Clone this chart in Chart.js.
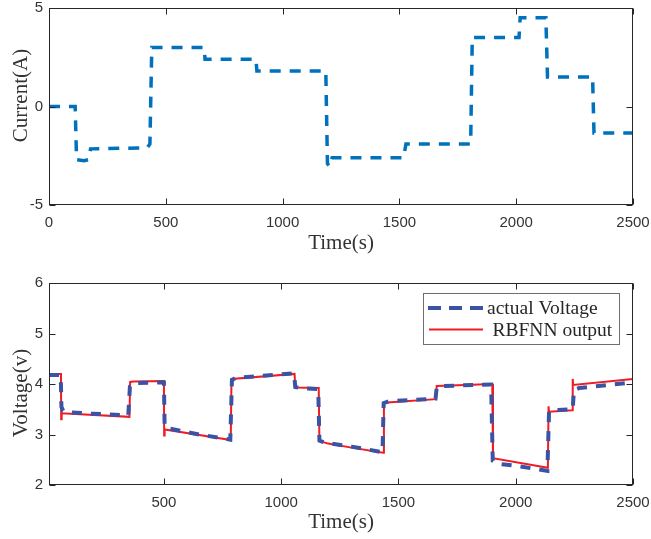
<!DOCTYPE html>
<html>
<head>
<meta charset="utf-8">
<script src="https://cdn.jsdelivr.net/npm/chart.js@4/dist/chart.umd.min.js"></script>
<style>
  html, body { margin: 0; padding: 0; background: #ffffff; }
  #wrap { position: relative; width: 651px; height: 539px; overflow: hidden; }
  canvas { position: absolute; left: 0; }
</style>
</head>
<body>
<div id="wrap">
  <canvas id="top" width="651" height="270" style="top:0px"></canvas>
  <canvas id="bottom" width="651" height="269" style="top:270px"></canvas>
</div>
<script>
// ---------------- data ----------------
const xTicksTop = [0, 500, 1000, 1500, 2000, 2500];
const yTicksTop = [-5, 0, 5];
const xTicksBottom = [500, 1000, 1500, 2000, 2500];
const yTicksBottom = [2, 3, 4, 5, 6];

const timeCurrent = [0, 112, 118, 150, 168, 178, 420, 432, 440, 664, 668, 886, 890, 1185, 1192, 1202, 1212, 1518, 1528, 1805, 1812, 2012, 2017, 2127, 2134, 2327, 2333, 2500];
const current     = [0, 0, -2.7, -2.75, -2.7, -2.15, -2.1, -1.9, 3.0, 3.0, 2.4, 2.4, 1.8, 1.8, -2.9, -3.05, -2.6, -2.6, -1.9, -1.9, 3.5, 3.5, 4.5, 4.5, 1.5, 1.5, -1.35, -1.35];

const timeActual    = [10, 60, 63, 70, 90, 200, 348, 355, 370, 500, 503, 520, 650, 783, 790, 805, 1055, 1060, 1080, 1158, 1163, 1185, 1300, 1432, 1437, 1460, 1658, 1663, 1685, 1895, 1902, 1925, 2000, 2135, 2142, 2165, 2243, 2248, 2270, 2500];
const voltageActual = [4.18, 4.18, 3.55, 3.47, 3.44, 3.41, 3.38, 3.95, 4.02, 4.03, 3.16, 3.12, 3.00, 2.90, 4.08, 4.12, 4.21, 3.94, 3.92, 3.90, 2.88, 2.84, 2.76, 2.65, 3.62, 3.66, 3.71, 3.93, 3.96, 3.99, 2.48, 2.42, 2.38, 2.28, 3.45, 3.48, 3.50, 3.88, 3.92, 4.03];

const timeRBF    = [10, 61, 62, 64, 353, 356, 370, 500, 501, 503, 785, 788, 1057, 1060, 1160, 1163, 1200, 1300, 1435, 1438, 1660, 1663, 1900, 1903, 2137, 2140, 2142, 2240, 2243, 2245, 2500];
const voltageRBF = [4.20, 4.20, 3.30, 3.42, 3.35, 4.04, 4.05, 4.06, 2.98, 3.10, 2.89, 4.10, 4.20, 3.93, 3.92, 2.87, 2.82, 2.74, 2.64, 3.63, 3.70, 3.96, 4.00, 2.53, 2.34, 3.56, 3.45, 3.48, 4.10, 3.98, 4.10];

const legendLabels = ['actual Voltage', 'RBFNN output'];

// ---------------- helpers ----------------
const zip = (xs, ys) => xs.map((x, i) => ({ x: x, y: ys[i] }));
const TICK_FONT = { family: '"Liberation Sans", Arial, sans-serif', size: 15 };
const TICK_COLOR = '#333333';
const TITLE_FONT = '21px "Liberation Serif", "Times New Roman", serif';
const FRAME = '#262626';

function framePlugin(yTitle, yTitleX, yTitleDy, legend) {
  return {
    id: 'frame',
    afterDatasetsDraw(chart) {
      const { ctx, chartArea: a, scales: { x, y } } = chart;
      ctx.save();
      ctx.strokeStyle = FRAME;
      ctx.lineWidth = 1;
      const L = Math.round(a.left) + 0.5, R = Math.round(a.right) - 0.5;
      const T = Math.round(a.top) + 0.5, B = Math.round(a.bottom) - 0.5;
      ctx.strokeRect(L, T, R - L, B - T);
      const len = 6;
      ctx.beginPath();
      x.ticks.forEach(t => {
        const px = Math.round(x.getPixelForValue(t.value)) + 0.5;
        ctx.moveTo(px, B); ctx.lineTo(px, B - len);
        ctx.moveTo(px, T); ctx.lineTo(px, T + len);
      });
      y.ticks.forEach(t => {
        const py = Math.round(y.getPixelForValue(t.value)) + 0.5;
        ctx.moveTo(L, py); ctx.lineTo(L + len, py);
        ctx.moveTo(R, py); ctx.lineTo(R - len, py);
      });
      ctx.stroke();

      // y axis title
      ctx.fillStyle = TICK_COLOR;
      ctx.font = TITLE_FONT;
      ctx.textAlign = 'center';
      ctx.textBaseline = 'middle';
      ctx.translate(yTitleX, (a.top + a.bottom) / 2 + yTitleDy);
      ctx.rotate(-Math.PI / 2);
      ctx.fillText(yTitle, 0, 0);
      ctx.setTransform(1, 0, 0, 1, 0, 0);

      if (legend) {
        const ds = chart.data.datasets;
        const bx = 423.5, by = 23.5, bw = 196, bh = 51;
        ctx.fillStyle = '#ffffff';
        ctx.fillRect(bx, by, bw, bh);
        ctx.strokeStyle = '#6e6e6e';
        ctx.lineWidth = 1;
        ctx.strokeRect(bx, by, bw, bh);
        ctx.strokeStyle = ds[0].borderColor;
        ctx.lineWidth = ds[0].borderWidth;
        ctx.setLineDash([13, 8]);
        ctx.beginPath(); ctx.moveTo(428, 38); ctx.lineTo(484, 38); ctx.stroke();
        ctx.setLineDash([]);
        ctx.strokeStyle = ds[1].borderColor;
        ctx.lineWidth = ds[1].borderWidth;
        ctx.beginPath(); ctx.moveTo(429, 59.5); ctx.lineTo(483, 59.5); ctx.stroke();
        ctx.fillStyle = '#262626';
        ctx.font = '19.5px "Liberation Serif", "Times New Roman", serif';
        ctx.textAlign = 'left';
        ctx.textBaseline = 'alphabetic';
        ctx.fillText(ds[0].label, 487, 43.5);
        ctx.fillText(ds[1].label, 492.5, 66);
      }
      ctx.restore();
    }
  };
}

function makeOptions(p) {
  return {
    responsive: false,
    animation: false,
    devicePixelRatio: 1,
    layout: { padding: { left: 0, right: 18, top: p.padTop, bottom: 0 } },
    plugins: { legend: { display: false }, tooltip: { enabled: false } },
    elements: { point: { radius: 0 }, line: { tension: 0 } },
    scales: {
      x: {
        type: 'linear',
        min: p.xMin, max: p.xMax,
        grid: { display: false, drawTicks: false },
        border: { display: false },
        afterBuildTicks: s => { s.ticks = p.xTicks.map(v => ({ value: v })); },
        afterFit: s => { s.height = p.xHeight; s.paddingLeft = 0; s.paddingRight = 0; },
        ticks: { font: TICK_FONT, color: TICK_COLOR, padding: 9, maxRotation: 0, autoSkip: false, callback: v => String(v) },
        title: {
          display: true, text: 'Time(s)', color: TICK_COLOR,
          font: { family: '"Liberation Serif", "Times New Roman", serif', size: 21 },
          padding: { top: 0, bottom: p.titlePad }
        }
      },
      y: {
        type: 'linear',
        min: p.yMin, max: p.yMax,
        grid: { display: false, drawTicks: false },
        border: { display: false },
        afterBuildTicks: s => { s.ticks = p.yTicks.map(v => ({ value: v })); },
        afterFit: s => { s.width = 49; s.paddingTop = 0; s.paddingBottom = 0; },
        ticks: { font: TICK_FONT, color: TICK_COLOR, padding: 6, autoSkip: false, callback: v => String(v) }
      }
    }
  };
}

// ---------------- top chart: current ----------------
new Chart(document.getElementById('top'), {
  type: 'line',
  data: {
    datasets: [{
      label: 'Current',
      data: zip(timeCurrent, current),
      borderColor: '#0072BD',
      borderWidth: 3.5,
      borderDash: [11, 9],
      fill: false
    }]
  },
  options: makeOptions({ padTop: 8, xMin: 0, xMax: 2500, yMin: -5, yMax: 5, xTicks: xTicksTop, yTicks: yTicksTop, xHeight: 65, titlePad: 14 }),
  plugins: [framePlugin('Current(A)', 21, -11, false)]
});

// ---------------- bottom chart: voltage ----------------
new Chart(document.getElementById('bottom'), {
  type: 'line',
  data: {
    datasets: [{
      label: legendLabels[0],
      data: zip(timeActual, voltageActual),
      borderColor: '#3A53A4',
      borderWidth: 4,
      borderDash: [10, 9],
      fill: false
    }, {
      label: legendLabels[1],
      data: zip(timeRBF, voltageRBF),
      borderColor: '#EE1C25',
      borderWidth: 2,
      fill: false
    }]
  },
  options: makeOptions({ padTop: 13, xMin: 10, xMax: 2500, yMin: 2, yMax: 6, xTicks: xTicksBottom, yTicks: yTicksBottom, xHeight: 54, titlePad: 4 }),
  plugins: [framePlugin('Voltage(v)', 21, 9, true)]
});
</script>
</body>
</html>
